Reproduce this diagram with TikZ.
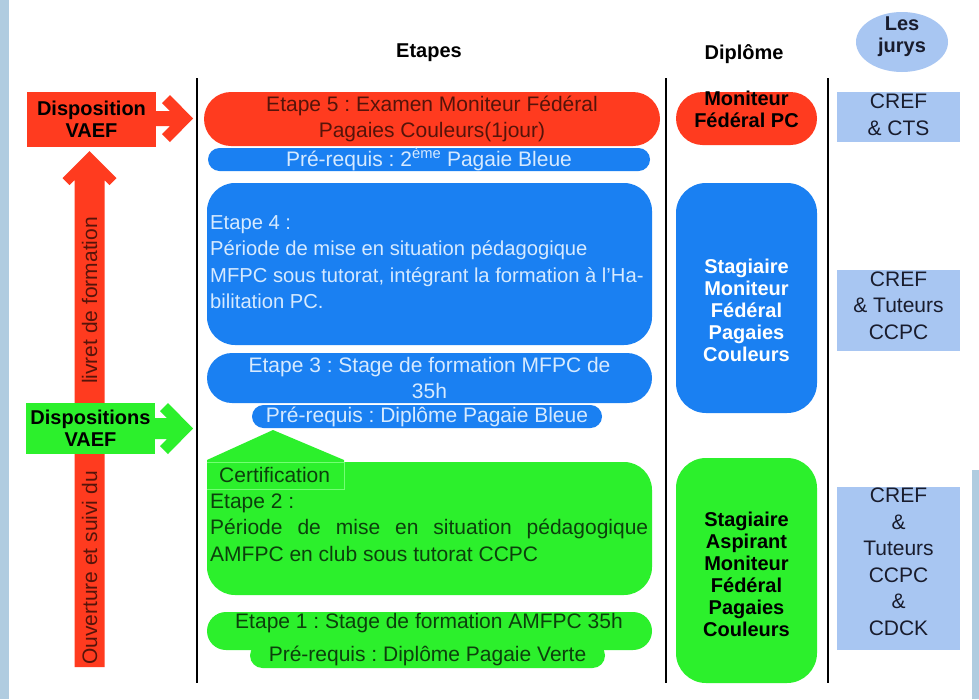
\documentclass[tikz,border=0pt]{standalone}
\usepackage{fontspec}
\setmainfont{Liberation Sans}
\usetikzlibrary{shapes.geometric}
\frenchspacing
\definecolor{vaefred}{RGB}{255,59,31}
\definecolor{mfblue}{RGB}{26,128,242}
\definecolor{amgreen}{RGB}{44,240,44}
\definecolor{jurblue}{RGB}{168,198,242}
\definecolor{redink}{RGB}{85,20,10}
\definecolor{blueink}{RGB}{214,234,255}
\definecolor{greenink}{RGB}{12,64,12}
\definecolor{juryink}{RGB}{25,28,45}
\definecolor{skystrip}{RGB}{176,204,224}
\newcommand\etfont{\fontsize{21}{26.5}\selectfont}
\newcommand\hdfont{\fontsize{20}{22}\selectfont\bfseries}
\begin{document}
\begin{tikzpicture}[x=1pt,y=-1pt,
  every node/.style={inner sep=0pt,font=\etfont},
  etape/.style={fill=#1,minimum width=445pt},
  prereq/.style={fill=mfblue,text=blueink,minimum height=23pt,rounded corners=11.5pt},
  dipl/.style={fill=#1,minimum width=141pt,rounded corners=30pt},
  jury/.style={fill=jurblue,minimum width=123pt},
  jurytext/.style={text=juryink,align=center},
  head/.style={font=\hdfont,align=center},
  vaef/.style={fill=#1,minimum width=129pt,font=\hdfont,align=center}]
\useasboundingbox (0,0) rectangle (979,699);
\fill[white] (0,0) rectangle (979,699);
\fill[skystrip] (0,0) rectangle (9,699);
\fill[skystrip] (972,470) rectangle (979,699);
% column titles
\node[head] (hetapes) at (429,53) {Etapes};
\node[head] (hdiplome) at (744,54) {Diplôme};
\node[ellipse,fill=jurblue,minimum width=92pt,minimum height=60pt] (hjury) at (902,42) {};
\node[head,text=juryink] (hjuryt) at (902,37) {Les\\jurys};
% separators
\draw[line width=2.5pt] (197,78) -- (197,683);
\draw[line width=2.5pt] (666,78) -- (666,683);
\draw[line width=2.5pt] (828,78) -- (828,683);
% left side: livret arrow and VAEF boxes
\fill[vaefred] (89.5,151) -- (116.5,178) -- (109.5,185) -- (104.5,180) -- (104.5,667)
  -- (74.5,667) -- (74.5,180) -- (69.5,185) -- (62.5,178) -- cycle;
\node[rotate=90,text=redink] (livret1) at (89.5,568) {Ouverture et suivi du};
\node[rotate=90,text=redink] (livret2) at (89.5,300.5) {livret de formation};
\fill[vaefred] (150,111) -- (170,111) -- (162,103) -- (170,95) -- (193,118.5)
  -- (170,142) -- (162,134) -- (170,126) -- (150,126) -- cycle;
\node[vaef=vaefred,minimum height=55pt,text=black] (dv5) at (91.5,119.5) {Disposition\\VAEF};
\fill[amgreen] (150,418) -- (167,418) -- (160,411) -- (168,403) -- (193,428.5)
  -- (168,454) -- (160,446) -- (167,439) -- (150,439) -- cycle;
\node[vaef=amgreen,minimum height=51pt,text=black] (dv3) at (90.5,428.5) {Dispositions\\VAEF};
% etapes
\node[etape=vaefred,minimum width=456pt,minimum height=54pt,rounded corners=27pt,
  align=center,text=redink] (e5) at (432,119) {Etape 5 : Examen Moniteur Fédéral\\Pagaies Couleurs(1jour)};
\node[prereq,minimum width=442pt] (pr5) at (429,159.5) {Pré-requis : 2\textsuperscript{ème} Pagaie Bleue};
\node[etape=mfblue,minimum height=162pt,rounded corners=28pt] (e4) at (429.5,264) {};
\node[anchor=west,align=left,text=blueink,font=\fontsize{20.2}{26.5}\selectfont] (e4t) at (210,262)
  {Etape 4 :\\Période de mise en situation pédagogique\\MFPC sous tutorat, intégrant la formation à l'Ha-\\bilitation PC.};
\node[etape=mfblue,minimum height=50pt,rounded corners=25pt,align=center,text=blueink]
  (e3) at (429.5,378) {Etape 3 : Stage de formation MFPC de\\35h};
\node[prereq,minimum width=350pt] (pr3) at (427,416.5) {Pré-requis : Diplôme Pagaie Bleue};
\node[etape=amgreen,minimum height=133pt,rounded corners=28pt] (e2) at (429.5,528.5) {};
\fill[amgreen] (207,489) -- (207,460) -- (273,430) -- (344,460) -- (344,489) -- cycle;
\draw[green!55!white,line width=0.6pt] (207,462) -- (344,462) -- (344,489) -- (207,489);
\node[anchor=west,text=greenink] (cert) at (219,475) {Certification};
\node[anchor=west,align=left,text=greenink] (e2t) at (210,527.5)
  {Etape 2 :\\\makebox[438pt][s]{Période de mise en situation pédagogique}\\AMFPC en club sous tutorat CCPC};
\node[etape=amgreen,minimum height=38pt,rounded corners=19pt] (e1) at (429.5,631) {};
\node[text=greenink] (e1t) at (429,623) {Etape 1 : Stage de formation AMFPC 35h};
\node[prereq,fill=amgreen,text=greenink,minimum width=355pt,minimum height=25pt,rounded corners=12.5pt]
  (pr1) at (427.5,655.5) {Pré-requis : Diplôme Pagaie Verte};
% diplomes
\node[dipl=vaefred,minimum height=53pt,rounded corners=26.5pt] (dmf) at (746.5,118.5) {};
\node[head] (dmft) at (746.5,109) {Moniteur\\Fédéral PC};
\node[dipl=mfblue,minimum height=230pt] (dsm) at (746.5,298) {};
\node[head,text=white] (dsmt) at (746.5,310.5) {Stagiaire\\Moniteur\\Fédéral\\Pagaies\\Couleurs};
\node[dipl=amgreen,minimum height=225pt] (dsa) at (746.5,570.5) {};
\node[head] (dsat) at (746.5,574.5) {Stagiaire\\Aspirant\\Moniteur\\Fédéral\\Pagaies\\Couleurs};
% jurys
\node[jury,minimum height=50pt] (j5) at (898.5,117) {};
\node[jurytext] (j5t) at (898.5,115) {CREF\\\& CTS};
\node[jury,minimum height=81pt] (j4) at (898.5,310.5) {};
\node[jurytext] (j4t) at (898.5,305.5) {CREF\\\& Tuteurs\\CCPC};
\node[jury,minimum height=163pt] (j2) at (898.5,568.5) {};
\node[jurytext] (j2t) at (898.5,562) {CREF\\\&\\Tuteurs\\CCPC\\\&\\CDCK};
\end{tikzpicture}
\end{document}
